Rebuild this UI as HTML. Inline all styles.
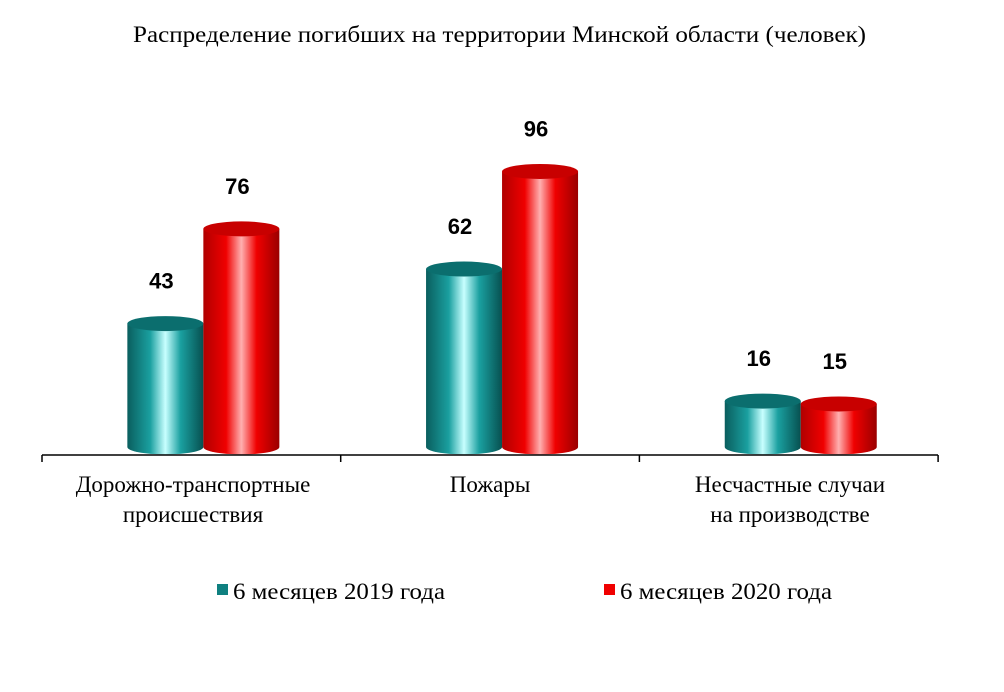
<!DOCTYPE html>
<html><head><meta charset="utf-8"><style>
body{margin:0;background:#fff}
.serif{font-family:"Liberation Serif",serif}
.val{font-family:"Liberation Sans",sans-serif;font-weight:bold}
</style></head><body>
<svg width="1004" height="687" viewBox="0 0 1004 687">
<defs>
<linearGradient id="gT" x1="0" x2="1"><stop offset="0" stop-color="#0a5e5e"/><stop offset="0.3" stop-color="#1aa0a0"/><stop offset="0.5" stop-color="#c8ffff"/><stop offset="0.7" stop-color="#1aa0a0"/><stop offset="1" stop-color="#075050"/></linearGradient>
<linearGradient id="gR" x1="0" x2="1"><stop offset="0" stop-color="#b00000"/><stop offset="0.3" stop-color="#f00000"/><stop offset="0.5" stop-color="#ffb0b0"/><stop offset="0.7" stop-color="#f00000"/><stop offset="1" stop-color="#9a0000"/></linearGradient>
</defs>
<text class="serif" x="133" y="42" textLength="733" lengthAdjust="spacingAndGlyphs" font-size="23">Распределение погибших на территории Минской области (человек)</text>
<g id="bars"></g>
<line x1="42" y1="455" x2="938" y2="455" stroke="#000" stroke-width="1.5"/>
<g id="ticks"></g>
<g class="serif" font-size="23" text-anchor="middle">
<text x="193" y="492">Дорожно-транспортные</text>
<text x="193" y="522">происшествия</text>
<text x="490" y="492">Пожары</text>
<text x="790" y="492">Несчастные случаи</text>
<text x="790" y="522">на производстве</text>
</g>
<g class="serif" font-size="23">
<rect x="217" y="584" width="11" height="11" fill="#0f8080"/>
<text x="233" y="599" textLength="212" lengthAdjust="spacingAndGlyphs">6 месяцев 2019  года</text>
<rect x="604" y="584" width="11" height="11" fill="#f00000"/>
<text x="620" y="599" textLength="212" lengthAdjust="spacingAndGlyphs">6 месяцев 2020  года</text>
</g>
</svg>
<script>
const categories=["Дорожно-транспортные происшествия","Пожары","Несчастные случаи на производстве"];
const series2019=[43,62,16];
const series2020=[76,96,15];
const NS="http://www.w3.org/2000/svg";
const base=447, scale=2.87, left=42, catW=298.7, bw=76, ry=7.5, shift=12;
const y=v=>base-v*scale;
const g=document.getElementById('bars');
function mk(t,a){const e=document.createElementNS(NS,t);for(const k in a)e.setAttribute(k,a[k]);return e;}
function cyl(cx,v,grad,top,name){
  const grp=mk('g',{});
  
  
  const yt=y(v),rx=bw/2;
  grp.appendChild(mk('path',{d:`M${cx-rx},${yt} L${cx-rx},${base} A${rx},${ry} 0 0 0 ${cx+rx},${base} L${cx+rx},${yt} Z`,fill:`url(#${grad})`}));
  grp.appendChild(mk('ellipse',{cx:cx,cy:yt,rx:rx,ry:ry,fill:top}));
  const t=mk('text',{x:cx-4,y:yt-35,'text-anchor':'middle','font-size':'22','class':'val'});
  t.textContent=v;
  
  
  grp.appendChild(t);
  g.appendChild(grp);
}
categories.forEach((c,i)=>{
  const c0=left+catW*i+catW/2+shift;
  cyl(c0-bw/2,series2019[i],'gT','#0b6e6e','bar-2019-'+i);
  cyl(c0+bw/2,series2020[i],'gR','#c80000','bar-2020-'+i);
});
const tk=document.getElementById('ticks');
for(let i=0;i<=categories.length;i++){
  const x=left+catW*i;
  const l=mk('line',{x1:x,y1:455,x2:x,y2:462,stroke:'#000','stroke-width':1.5});
  
  
  tk.appendChild(l);
}
</script>
</body></html>
